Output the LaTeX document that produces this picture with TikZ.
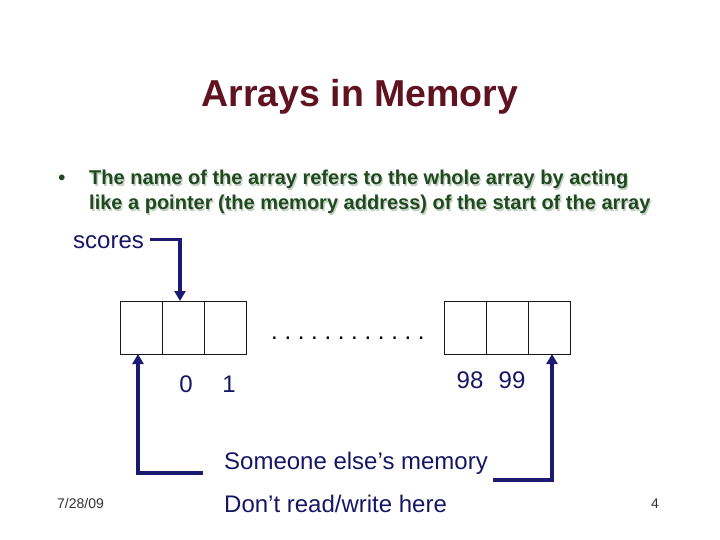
\documentclass[tikz,border=0pt]{standalone}
\usepackage{fontspec}
\setmainfont{Liberation Sans}
\usetikzlibrary{positioning,arrows.meta}
\definecolor{titlered}{RGB}{96,18,32}
\definecolor{bulletgreen}{RGB}{30,74,30}
\definecolor{shadowgray}{RGB}{195,205,195}
\definecolor{navy}{RGB}{22,22,100}
\definecolor{arrowblue}{RGB}{26,26,112}
\newcommand{\pointertext}{The name of the array refers to the whole array by acting\\like a pointer (the memory address) of the start of the array}

\begin{document}
\begin{tikzpicture}[x=1pt,y=-1pt,every node/.style={inner sep=0pt},
  cell/.style={draw=black!90,line width=0.9pt,minimum width=42pt,minimum height=53pt,outer sep=0pt},
  lbl/.style={text=navy,font=\fontsize{24}{28}\selectfont,anchor=base},
  ptr/.style={draw=arrowblue,line width=3.5pt,-{Triangle[width=11pt,length=10pt]}}]
  \useasboundingbox (0,0) rectangle (720,540);
  \node[anchor=base,text=titlered,font=\fontsize{37.5}{44}\selectfont\bfseries] (title) at (360,107) {Arrays in Memory};
  \node[anchor=base,text=bulletgreen,font=\fontsize{20}{25}\selectfont\bfseries] (bullet) at (62,185) {•};
  \node[anchor=base west,align=left,text=shadowgray,font=\fontsize{20}{25}\selectfont\bfseries] (shadow) at (90.3,211.3) {\pointertext};
  \node[anchor=base west,align=left,text=bulletgreen,font=\fontsize{20}{25}\selectfont\bfseries] (point) at (89,210) {\pointertext};
  \node[lbl,anchor=base west] (scores) at (73,248) {scores};
  \node[cell] (a0) at (141,327.5) {};
  \node[cell,right=0pt of a0] (a1) {};
  \node[cell,right=0pt of a1] (a2) {};
  \node[cell] (b0) at (465.5,327.5) {};
  \node[cell,right=0pt of b0] (b1) {};
  \node[cell,right=0pt of b1] (b2) {};
  \node[anchor=base west,font=\fontsize{24}{28}\selectfont\frenchspacing] (dots) at (271,339) {. . . . . . . . . . . .};
  \node[lbl] (i0) at (186,392) {0};
  \node[lbl] (i1) at (229,392) {1};
  \node[lbl] (i98) at (470,388) {98};
  \node[lbl] (i99) at (512,388) {99};
  \node[lbl,anchor=base west] (other) at (224,469) {Someone else’s memory};
  \node[lbl,anchor=base west] (dont) at (224,512) {Don’t read/write here};
  \node[anchor=base west,text=black!80,font=\fontsize{14}{16}\selectfont] (date) at (57,508) {7/28/09};
  \node[anchor=base,text=black!80,font=\fontsize{14}{16}\selectfont] (page) at (655,508) {4};
  \coordinate (lowleft) at (203,473);
  \coordinate (lowright) at (493,480);
  \draw[ptr] ([xshift=6pt,yshift=2pt]scores.east) -| ([xshift=-3pt]a1.north);
  \draw[ptr] (lowleft) -| ([xshift=-3pt]a0.south);
  \draw[ptr] (lowright) -| ([xshift=2.5pt]b2.south);
\end{tikzpicture}
\end{document}
